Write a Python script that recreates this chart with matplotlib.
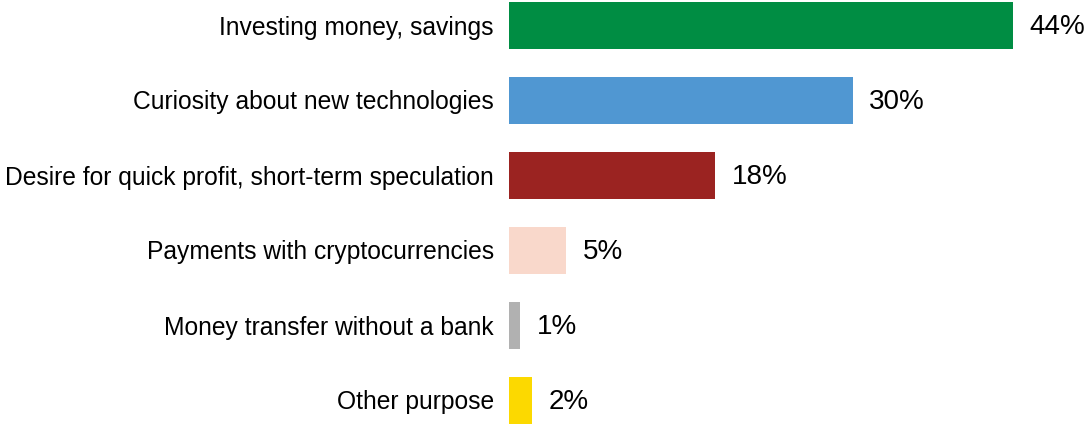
import matplotlib
matplotlib.use("Agg")
import matplotlib.pyplot as plt

categories = ["Investing money, savings", "Curiosity about new technologies",
              "Desire for quick profit, short-term speculation", "Payments with cryptocurrencies",
              "Money transfer without a bank", "Other purpose"]
values = [44, 30, 18, 5, 1, 2]
colors = ["#008d43", "#5097d2", "#9b2321", "#f9d8cb", "#b1b1b1", "#fcd900"]
value_labels = ["44%", "30%", "18%", "5%", "1%", "2%"]

plt.rcParams['font.family'] = ['Liberation Sans', 'DejaVu Sans']
W, H = 1087, 425
fig = plt.figure(figsize=(W/100, H/100), dpi=100)
left = 509 / W
ax = fig.add_axes([left, 0, 1 - left, 1])
px_per = 504 / 44
ax.set_xlim(0, (W - 509) / px_per)
spacing = 75
ytop = -25 / spacing
ybot = (425 - 25) / spacing
ys = list(range(len(values)))
ax.set_ylim(ybot, ytop)
bh = 47 / spacing
ax.barh(ys, values, height=bh, color=colors)
for y, v, lab in zip(ys, values, value_labels):
    ax.annotate(lab, (v, y), xytext=(12, -1.5), textcoords='offset points',
                va='center', ha='left', fontsize=20, color='black')
ax.set_yticks(ys)
ax.set_yticklabels(categories, fontsize=17.7)
ax.tick_params(axis='y', length=0, pad=11)
ax.set_xticks([])
for s in ax.spines.values():
    s.set_visible(False)
fig.savefig("out.png", dpi=100)
